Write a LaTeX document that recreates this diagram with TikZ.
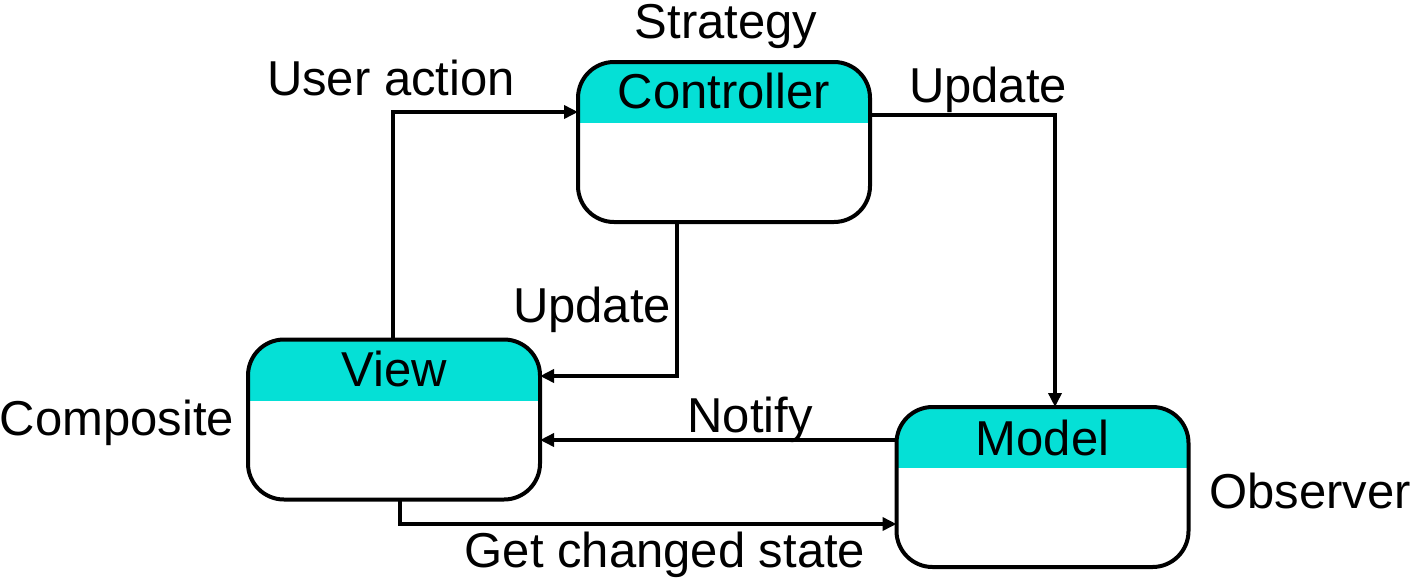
\documentclass[tikz,border=0pt]{standalone}
\usepackage{fontspec}
\setmainfont{Liberation Sans}
\usetikzlibrary{arrows.meta}
\definecolor{hdr}{RGB}{5,224,214}
\begin{document}
\begin{tikzpicture}[x=1pt,y=-1pt,
  box/.style={draw=black, line width=4pt, rounded corners=36pt,
    minimum width=292pt, minimum height=160pt, inner sep=0pt, outer sep=0pt, fill=white,
    path picture={\fill[hdr, sharp corners] (path picture bounding box.north west) rectangle ([yshift=-61pt]path picture bounding box.north east);}},
  lbl/.style={font=\fontsize{49}{58}\selectfont, anchor=base, inner sep=0pt},
  arr/.style={line width=3.5pt, -{Triangle[length=14pt,width=13pt]}},
]
\useasboundingbox (0,0) rectangle (1412,581);
% boxes
\node[box] (C) at (724,142) {};
\node[box] (V) at (394,419.5) {};
\node[box] (M) at (1042.5,487) {};
% box titles
\node[lbl] (Ct) at (724,108) {Controller};
\node[lbl] (Vt) at (394,386) {View};
\node[lbl] (Mt) at (1042.5,455) {Model};
% side labels
\node[lbl] (st) at (726,38) {Strategy};
\node[lbl] (co) at (117,435) {Composite};
\node[lbl] (ob) at (1310,508) {Observer};
% connector labels
\node[lbl] (ua) at (391,95) {User action};
\node[lbl] (u1) at (988,102) {Update};
\node[lbl] (u2) at (592,322) {Update};
\node[lbl] (nt) at (750,432) {Notify};
\node[lbl] (gc) at (665,567) {Get changed state};
% connectors
\coordinate (n1) at ([yshift=47pt]M.west);
\draw[arr] ([xshift=-1pt]V.north) |- ([yshift=30pt]C.west);
\draw[arr] ([yshift=27pt]C.east) -| ([xshift=12.5pt]M.north);
\draw[arr] ([xshift=-47pt]C.south) |- ([yshift=43.5pt]V.east);
\draw[arr] (n1) -- (n1 -| V.east);
\draw[arr] ([xshift=6pt]V.south) |- ([yshift=-37pt]M.west);
\end{tikzpicture}
\end{document}
